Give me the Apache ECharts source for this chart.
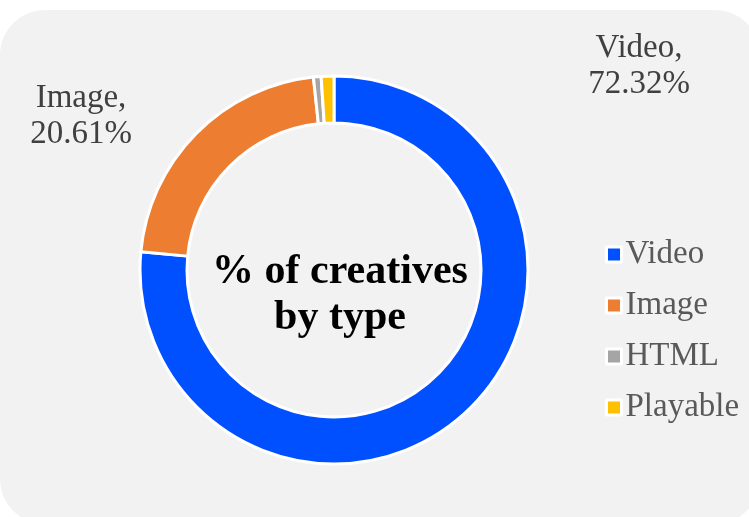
<!DOCTYPE html>
<html>
<head>
<meta charset="utf-8">
<script src="https://cdn.jsdelivr.net/npm/echarts@6/dist/echarts.min.js"></script>
<style>
  html, body { margin: 0; padding: 0; background: #ffffff; }
  #chart { width: 749px; height: 517px; }
</style>
</head>
<body>
<div id="chart"></div>
<script>
// Share of creatives by type (percent)
const categories = ['Video', 'Image', 'HTML', 'Playable'];
const shares = [72.32, 20.61, 0.6, 1.0];
const colors = ['#0050FF', '#ED7D31', '#A5A5A5', '#FFC000'];
const labelled = ['Video', 'Image'];
const centerTitle = '% of creatives\nby type';

// Where the outside value labels sit
const labelSpots = {
  Video: { x: 639, y: 66 },
  Image: { x: 81, y: 116 }
};

const serif = '"Liberation Serif", "Times New Roman", serif';

const chart = echarts.init(document.getElementById('chart'), null, { renderer: 'canvas' });

chart.setOption({
  backgroundColor: 'transparent',
  animation: false,
  graphic: [
    {
      type: 'rect',
      z: -10,
      shape: { x: 0, y: 10, width: 760, height: 514, r: 45 },
      style: { fill: '#F2F2F2' }
    },
    {
      type: 'text',
      z: 10,
      x: 340,
      y: 295,
      style: {
        text: centerTitle,
        font: 'bold 42px ' + serif,
        fill: '#000000',
        textAlign: 'center',
        textVerticalAlign: 'middle',
        lineHeight: 46
      }
    }
  ],
  legend: {
    orient: 'vertical',
    left: 600,
    top: 233,
    itemWidth: 15,
    itemHeight: 15,
    itemGap: 18,
    icon: 'rect',
    itemStyle: { borderColor: '#ffffff', borderWidth: 3 },
    textStyle: { fontFamily: serif, fontSize: 33, color: '#595959', padding: [0, 0, 0, -1] },
    data: categories
  },
  series: [
    {
      type: 'pie',
      center: [334, 270],
      radius: [147, 194],
      startAngle: 90,
      clockwise: true,
      avoidLabelOverlap: false,
      itemStyle: { borderColor: '#ffffff', borderWidth: 3 },
      label: {
        show: true,
        position: 'outside',
        formatter: (p) => labelled.includes(p.name) ? p.name + ',\n' + p.value.toFixed(2) + '%' : '',
        fontFamily: serif,
        fontSize: 33,
        lineHeight: 36,
        color: '#404040',
        align: 'center'
      },
      labelLine: { show: false },
      labelLayout: (params) => {
        const name = categories[params.dataIndex];
        const spot = labelSpots[name];
        if (!spot) return {};
        return { x: spot.x, y: spot.y, align: 'center', verticalAlign: 'middle' };
      },
      emphasis: { disabled: true },
      data: categories.map((name, i) => ({
        name: name,
        value: shares[i],
        itemStyle: { color: colors[i] }
      }))
    }
  ]
});
</script>
</body>
</html>
